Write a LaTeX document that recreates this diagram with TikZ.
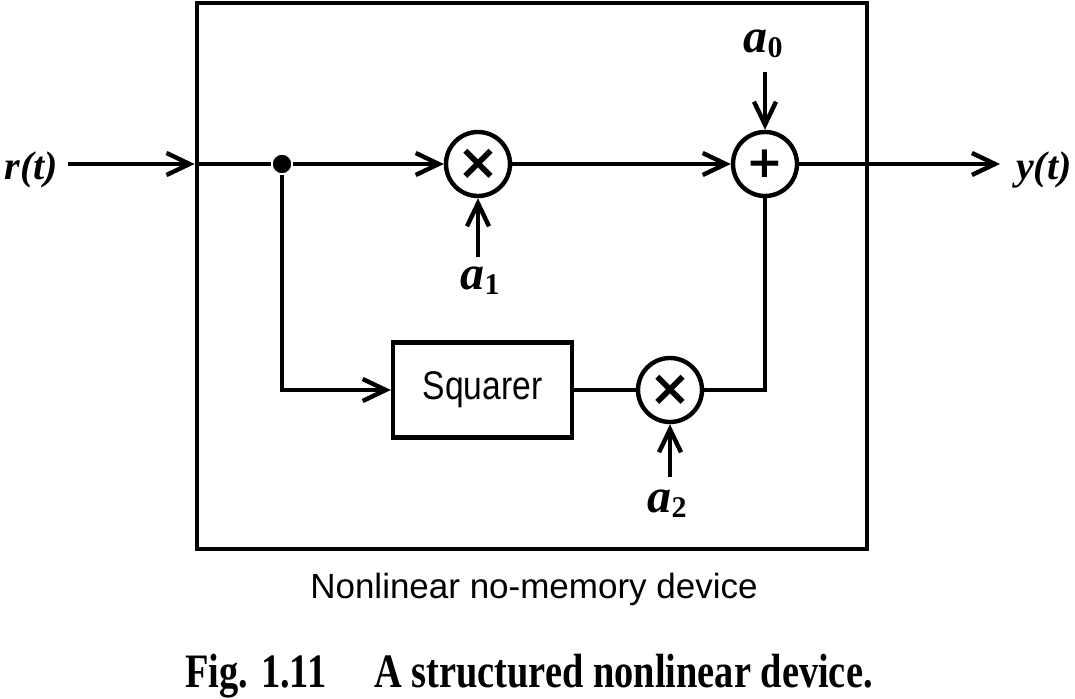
\documentclass[tikz,border=0pt]{standalone}
\usepackage{fontspec}
\setmainfont{Liberation Serif}
\setsansfont{Liberation Sans}
\newfontfamily\opfont{DejaVu Sans}
\newfontfamily\capfont[FakeStretch=0.8]{Liberation Serif}
\newfontfamily\blockfont[FakeStretch=0.84]{Liberation Sans}
\usetikzlibrary{arrows.meta}
\newcommand\myidx[1]{\raisebox{-2.5pt}{\fontsize{15}{15}\selectfont\upshape #1}}
\begin{document}
\begin{tikzpicture}[x=0.5pt,y=-0.5pt,
  line width=2.2pt,
  arr/.style={-{Straight Barb[length=11.5pt,width=11pt]}},
  op/.style={circle,draw,minimum size=32pt,inner sep=0pt},
  timesop/.style={op,font=\opfont\bfseries\fontsize{25}{25}\selectfont},
  plusop/.style={op,font=\opfont\bfseries\fontsize{22}{22}\selectfont},
  dot/.style={circle,fill,minimum size=9pt,inner sep=0pt},
  blockbox/.style={draw,minimum width=89.5pt,minimum height=47.5pt,inner sep=0pt,
    font=\blockfont\fontsize{20}{20}\selectfont},
  mlab/.style={font=\bfseries\itshape\fontsize{20}{20}\selectfont,inner ysep=0pt,inner xsep=4pt},
  alab/.style={font=\bfseries\itshape\fontsize{24}{24}\selectfont,inner sep=0pt,anchor=base},
  sanslab/.style={font=\sffamily\fontsize{17.5}{17.5}\selectfont,anchor=base,inner sep=0pt},
  figcap/.style={font=\capfont\bfseries\fontsize{24}{24}\selectfont,anchor=base,inner sep=0pt}
]
\useasboundingbox (0,0) rectangle (1075,699);

% outer device box
\node[draw,line width=2.4pt,minimum width=335pt,minimum height=273pt,inner sep=0pt] (dev) at (532,276) {};

% blocks
\node[timesop] (m1) at (478,164) {×};
\node[plusop] (add) at (765,164) {+};
\node[timesop] (m2) at (670,390) {×};
\node[blockbox] (sq) at (482.5,390) {Squarer};
\node[dot] (j) at (282,164) {};

% signal labels
\node[mlab,anchor=base east] (rt) at (68,180) {r(t)};
\node[mlab,anchor=base west,inner xsep=7pt] (yt) at (1000,180) {y(t)};
\node[alab] (a0) at (763,53) {a\myidx{0}};
\node[alab] (a1) at (480,290) {a\myidx{1}};
\node[alab] (a2) at (667,512) {a\myidx{2}};
\coordinate (a0s) at (765,72);
\coordinate (a1s) at (478,257);
\coordinate (a2s) at (670,477);

% connectors
\draw[arr] (rt.east |- j) -- (dev.west |- j);
\draw (dev.west |- j) -- (j);
\draw[arr] (j) -- (m1);
\draw[arr] (m1) -- (add);
\draw[arr] (add) -- (yt.west |- add);
\draw[arr] (j) |- (sq);
\draw (sq) -- (m2);
\draw (add) |- (m2);
\draw[arr] (a0s) -- (add);
\draw[arr] (a1s) -- (m1);
\draw[arr] (a2s) -- (m2);
\node[dot] at (j) {};

% captions
\node[sanslab] (cap1) at (534,598) {Nonlinear no-memory device};
\node[figcap] (cap2) at (529,687) {Fig. 1.11\hspace{24pt}A structured nonlinear device.};
\end{tikzpicture}
\end{document}
